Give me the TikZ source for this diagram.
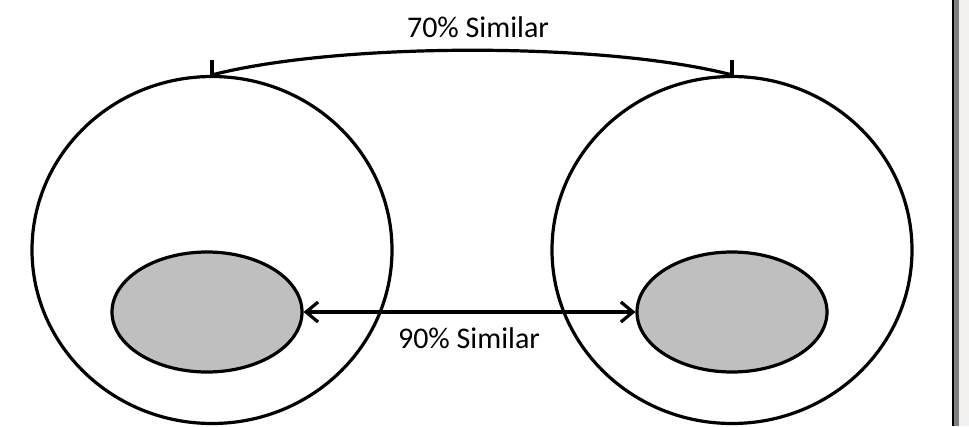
\documentclass[tikz,border=0pt]{standalone}
\usepackage{fontspec}
\setmainfont{Carlito}
\usetikzlibrary{arrows.meta, positioning, shapes.geometric}
\definecolor{coregray}{HTML}{BFBFBF}
\definecolor{edgegray}{HTML}{808080}
\definecolor{edgepale}{HTML}{F4F0EE}

\begin{document}
\begin{tikzpicture}[
    x=1pt, y=-1pt,
    group/.style={ellipse, draw=black, line width=3.2pt, fill=white,
                  minimum width=#1, inner sep=0pt},
    core/.style={ellipse, draw=black, line width=3.2pt, fill=coregray,
                 minimum width=190pt, minimum height=120pt, inner sep=0pt},
    label/.style={font=\fontsize{30}{34}\selectfont, inner sep=0pt},
    link/.style={line width=3.2pt, black},
    arrow/.style={{Straight Barb[length=12pt, width=20pt]}-{Straight Barb[length=12pt, width=20pt]},
                  line width=3.2pt, black}
  ]
    \useasboundingbox (0,0) rectangle (969,426);

    % window edge on the right
    \fill[edgepale] (959,0) rectangle (969,426);
    \fill[edgegray] (954,0) rectangle (959,426);
    \fill[black] (952,0) rectangle (954,426);

    % the two groups and their cores
    \node[group=360pt, minimum height=347pt] (lgroup) at (212,250) {};
    \node[group=360pt, minimum height=347pt] (rgroup) at (732,250) {};
    \node[core] (lcore) at (207,312) {};
    \node[core] (rcore) at (732,312) {};

    % similarity of the cores
    \draw[arrow] (lcore.east) -- (rcore.west);
    \node[label] (coresim) at (469,338) {90\% Similar};

    % similarity of the groups
    \draw[link] (lgroup.north) -- ++(0,-15) coordinate (ltick);
    \draw[link] (rgroup.north) -- ++(0,-15) coordinate (rtick);
    \draw[link] (lgroup.north) .. controls (340,42) and (605,42) .. (rgroup.north);
    \node[label] (groupsim) at (478,27) {70\% Similar};
  \end{tikzpicture}
\end{document}
